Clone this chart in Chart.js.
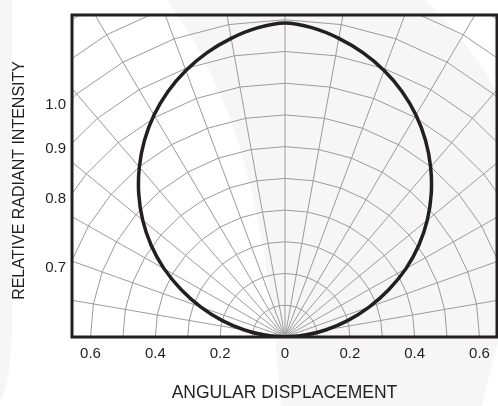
<!DOCTYPE html>
<html>
<head>
<meta charset="utf-8">
<script src="https://cdn.jsdelivr.net/npm/chart.js@4.4.1/dist/chart.umd.min.js"></script>
<style>
  html, body { margin: 0; padding: 0; background: #fff; }
  #wrap { width: 498px; height: 406px; position: relative; }
</style>
</head>
<body>
<div id="wrap"><canvas id="patternChart"></canvas></div>
<script>
// Radiation pattern (degrees from axis -> relative intensity)
const angles    = [0, 5, 10, 15, 20, 25, 30, 35, 40, 45, 50, 55, 60, 65, 70, 75, 80, 85, 90];
const intensity = [0.99, 0.978, 0.956, 0.928, 0.894, 0.854, 0.808, 0.756, 0.699, 0.638, 0.573, 0.504, 0.431, 0.353, 0.276, 0.2, 0.127, 0.06, 0];

// Polar grid
const gridAngles = [-80, -70, -60, -50, -40, -30, -20, -10, 0, 10, 20, 30, 40, 50, 60, 70, 80];
const gridRadii  = [0.1, 0.2, 0.3, 0.4, 0.5, 0.6, 0.7, 0.8, 0.9, 1.0, 1.1, 1.2];
const arcSteps   = [-90, -80, -70, -60, -50, -40, -30, -20, -10, 0, 10, 20, 30, 40, 50, 60, 70, 80, 90];

// Tick labels
const xTickValues = [-0.6, -0.4, -0.2, 0, 0.2, 0.4, 0.6];
const xTickLabels = ['0.6', '0.4', '0.2', '0', '0.2', '0.4', '0.6'];
const yTickRadii  = [1.0, 0.9, 0.8, 0.7];
const yTickLabels = ['1.0', '0.9', '0.8', '0.7'];

const X_MIN = -0.657, X_MAX = 0.654, Y_MIN = 0, Y_MAX = 1.015;
const INK = '#231f20';
const GRID = '#9b9b9b';
const WASH = '#f6f6f6';

const toXY = (deg, r) => {
    const a = deg * Math.PI / 180;
    return { x: r * Math.sin(a), y: r * Math.cos(a) };
};

// full pattern: mirror the measured half
const pattern = [];
for (let i = angles.length - 1; i > 0; i--) pattern.push(toXY(-angles[i], intensity[i]));
for (let i = 0; i < angles.length; i++) pattern.push(toXY(angles[i], intensity[i]));

const gridLine = (data) => ({
    data: data,
    showLine: true,
    borderColor: GRID,
    borderWidth: 1,
    pointRadius: 0,
    tension: 0,
    clip: 0,
    order: 2
});

const datasets = [{
    data: pattern,
    showLine: true,
    borderColor: INK,
    borderWidth: 3.5,
    pointRadius: 0,
    tension: 0.3,
    clip: 0,
    order: 0
}];
gridAngles.forEach(a => datasets.push(gridLine([toXY(a, 0), toXY(a, 1.6)])));
gridRadii.forEach(r => datasets.push(gridLine(arcSteps.map(a => toXY(a, r)))));

// faint watermark behind the whole figure
const washPlugin = {
    id: 'wash',
    beforeDraw(chart) {
        const { ctx, width, height } = chart;
        ctx.save();
        ctx.fillStyle = '#ffffff';
        ctx.fillRect(0, 0, width, height);
        ctx.fillStyle = WASH;
        ctx.beginPath();
        ctx.moveTo(167, 0);
        ctx.lineTo(425, 0);
        ctx.quadraticCurveTo(468, 40, 498, 93);
        ctx.lineTo(498, 345);
        ctx.quadraticCurveTo(488, 375, 482, 406);
        ctx.lineTo(281, 406);
        ctx.bezierCurveTo(268, 220, 240, 100, 167, 0);
        ctx.fill();
        ctx.beginPath();
        ctx.moveTo(0, 0);
        ctx.lineTo(12, 0);
        ctx.lineTo(12, 330);
        ctx.quadraticCurveTo(10, 385, 0, 402);
        ctx.fill();
        ctx.restore();
    }
};

// frame round the plot area
const framePlugin = {
    id: 'frame',
    afterDatasetsDraw(chart) {
        const { ctx, chartArea: c } = chart;
        ctx.save();
        ctx.strokeStyle = INK;
        ctx.lineWidth = 3;
        ctx.strokeRect(c.left, c.top, c.right - c.left, c.bottom - c.top);
        ctx.restore();
    }
};

Chart.defaults.font.family = "'Liberation Sans', Arial, sans-serif";
Chart.defaults.color = INK;

new Chart(document.getElementById('patternChart'), {
    type: 'scatter',
    data: { datasets: datasets },
    options: {
        responsive: true,
        maintainAspectRatio: false,
        animation: false,
        layout: { padding: { top: 8, right: 1, left: 0, bottom: 0 } },
        plugins: { legend: { display: false }, tooltip: { enabled: false } },
        scales: {
            x: {
                type: 'linear',
                min: X_MIN,
                max: X_MAX,
                grid: { display: false, drawTicks: false },
                border: { display: false },
                afterBuildTicks: (scale) => { scale.ticks = xTickValues.map(v => ({ value: v })); },
                afterFit: (scale) => { scale.height = 69; },
                ticks: {
                    padding: 8,
                    font: { size: 15 },
                    callback: (value, index) => xTickLabels[index]
                },
                title: {
                    display: true,
                    text: 'ANGULAR DISPLACEMENT',
                    font: { size: 17.5 },
                    padding: { top: 0, bottom: 2 }
                }
            },
            y: {
                type: 'linear',
                min: Y_MIN,
                max: Y_MAX,
                grid: { display: false, drawTicks: false },
                border: { display: false },
                // labels sit where each arc meets the left edge of the frame
                afterBuildTicks: (scale) => {
                    scale.ticks = yTickRadii.map(r => ({ value: Math.sqrt(r * r - X_MIN * X_MIN) }));
                },
                afterFit: (scale) => { scale.width = 72; },
                ticks: {
                    padding: 6,
                    labelOffset: 7,
                    font: { size: 15 },
                    callback: (value, index) => yTickLabels[index]
                },
                title: {
                    display: true,
                    text: 'RELATIVE RADIANT INTENSITY  ',
                    font: { size: 16 },
                    padding: { top: 10.4, bottom: 0 }
                }
            }
        }
    },
    plugins: [washPlugin, framePlugin]
});
</script>
</body>
</html>
